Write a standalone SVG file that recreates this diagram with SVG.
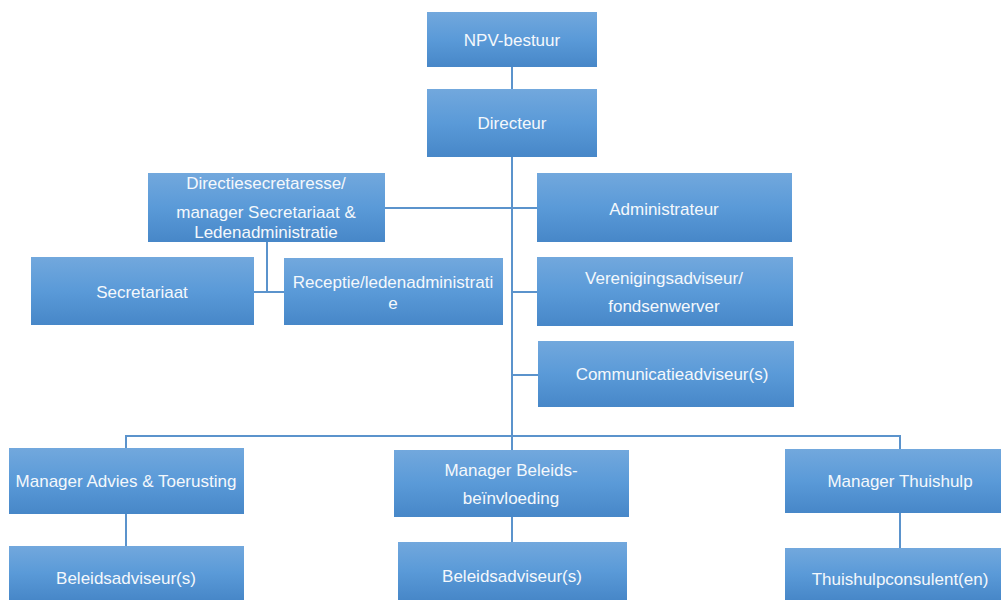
<svg xmlns="http://www.w3.org/2000/svg" width="1001" height="600" viewBox="0 0 1001 600">
<defs>
<linearGradient id="g" x1="0" y1="0" x2="0" y2="1">
<stop offset="0" stop-color="#72a8dd"/>
<stop offset="0.5" stop-color="#5a9ad8"/>
<stop offset="1" stop-color="#4787c8"/>
</linearGradient>
<style>
rect{fill:url(#g);}
text{font-family:"Liberation Sans",Arial,sans-serif;font-size:17px;fill:#f4f8fc;text-anchor:middle;}
#connectors path{fill:none;stroke:#5b93cc;stroke-width:2;}
</style>
</defs>
<rect width="1001" height="600" fill="#ffffff" style="fill:#ffffff"/>
<g id="connectors">
<path d="M512,67 V437"/>
<path d="M385,208 H537"/>
<path d="M267,242 V292 M254,292 H284"/>
<path d="M512,292 H537 M512,375 H538"/>
<path d="M126,448 V436 H900 V449 M512,436 V450"/>
<path d="M126,514 V546 M512,517 V542 M900,513 V548"/>
</g>
<g id="npv"><rect x="427" y="12" width="170" height="55"/><text x="512" y="46">NPV-bestuur</text></g>
<g id="directeur"><rect x="427" y="89" width="170" height="68"/><text x="512" y="129">Directeur</text></g>
<g id="directiesecretaresse"><rect x="148" y="173" width="237" height="69"/>
<text x="266" y="189">Directiesecretaresse/</text>
<text x="266" y="218">manager Secretariaat &amp;</text>
<text x="266" y="238">Ledenadministratie</text></g>
<g id="secretariaat"><rect x="31" y="257" width="223" height="68"/><text x="142" y="298">Secretariaat</text></g>
<g id="receptie"><rect x="284" y="258" width="219" height="67"/>
<text x="393" y="288">Receptie/ledenadministrati</text>
<text x="393" y="309">e</text></g>
<g id="administrateur"><rect x="537" y="173" width="255" height="69"/><text x="664" y="215">Administrateur</text></g>
<g id="verenigingsadviseur"><rect x="537" y="257" width="256" height="69"/>
<text x="664" y="284">Verenigingsadviseur/</text>
<text x="664" y="312">fondsenwerver</text></g>
<g id="communicatie"><rect x="538" y="341" width="256" height="66"/><text x="672" y="380">Communicatieadviseur(s)</text></g>
<g id="manager-advies"><rect x="9" y="448" width="235" height="66"/><text x="126" y="487">Manager Advies &amp; Toerusting</text></g>
<g id="manager-beleids"><rect x="394" y="450" width="235" height="67"/>
<text x="511" y="476">Manager Beleids-</text>
<text x="511" y="504">beïnvloeding</text></g>
<g id="manager-thuishulp"><rect x="785" y="449" width="216" height="64"/><text x="900" y="487">Manager Thuishulp</text></g>
<g id="beleidsadviseur-1"><rect x="9" y="546" width="235" height="54"/><text x="126" y="584">Beleidsadviseur(s)</text></g>
<g id="beleidsadviseur-2"><rect x="398" y="542" width="229" height="58"/><text x="512" y="582">Beleidsadviseur(s)</text></g>
<g id="thuishulpconsulent"><rect x="785" y="548" width="216" height="52"/><text x="900" y="585">Thuishulpconsulent(en)</text></g>
</svg>
